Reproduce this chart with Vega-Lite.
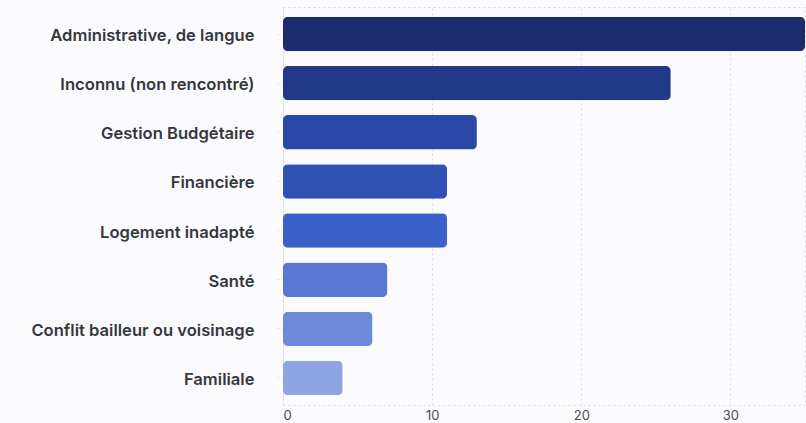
{
  "$schema": "https://vega.github.io/schema/vega-lite/v6.json",
  "width": 522,
  "height": 398,
  "autosize": {"type": "none"},
  "padding": {"left": 283, "top": 7, "right": 1, "bottom": 18},
  "background": "#fbfbfd",
  "config": {
    "font": "Inter",
    "view": {"stroke": "#d9dbe3", "strokeDash": [2, 3], "strokeWidth": 1}
  },
  "data": {
    "values": [
      {"categorie": "Administrative, de langue", "n": 35},
      {"categorie": "Inconnu (non rencontré)", "n": 26},
      {"categorie": "Gestion Budgétaire", "n": 13},
      {"categorie": "Financière", "n": 11},
      {"categorie": "Logement inadapté", "n": 11},
      {"categorie": "Santé", "n": 7},
      {"categorie": "Conflit bailleur ou voisinage", "n": 6},
      {"categorie": "Familiale", "n": 4}
    ]
  },
  "mark": {"type": "bar", "cornerRadius": 5},
  "encoding": {
    "y": {
      "field": "categorie",
      "type": "nominal",
      "sort": null,
      "scale": {"paddingInner": 0.3, "paddingOuter": 0.2},
      "axis": {
        "title": null,
        "domain": false,
        "ticks": true,
        "tickColor": "#e2e4ea",
        "tickDash": [2, 2],
        "tickSize": 8,
        "labelPadding": 21,
        "labelLimit": 300,
        "labelOffset": 2,
        "labelFont": "Inter",
        "labelFontSize": 16.6,
        "labelFontWeight": 600,
        "labelColor": "#35373e",
        "grid": false
      }
    },
    "x": {
      "field": "n",
      "type": "quantitative",
      "scale": {"domain": [0, 35], "nice": false},
      "axis": {
        "title": null,
        "values": [0, 10, 20, 30],
        "domain": false,
        "ticks": false,
        "labelPadding": 4,
        "labelFont": "Inter",
        "labelFontSize": 13,
        "labelColor": "#4a4d57",
        "grid": true,
        "gridColor": "#d9dbe3",
        "gridDash": [2, 3]
      }
    },
    "color": {
      "field": "categorie",
      "type": "nominal",
      "legend": null,
      "scale": {
        "domain": ["Administrative, de langue", "Inconnu (non rencontré)", "Gestion Budgétaire", "Financière", "Logement inadapté", "Santé", "Conflit bailleur ou voisinage", "Familiale"],
        "range": ["#1d2c6c", "#22398a", "#2b48a6", "#3152b5", "#3a61ca", "#5a78d2", "#6d89da", "#8fa4e2"]
      }
    }
  }
}
